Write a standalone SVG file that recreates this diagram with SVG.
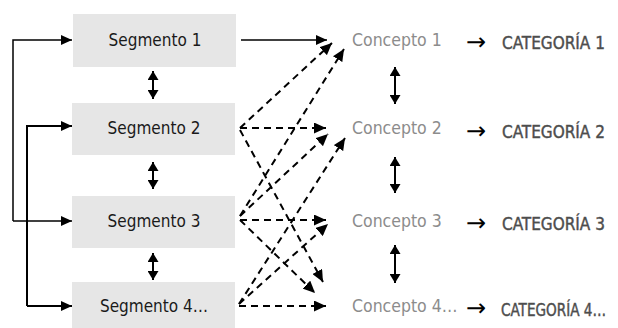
<svg xmlns="http://www.w3.org/2000/svg" width="618" height="328" viewBox="0 0 618 328">
<style>
.box{fill:#e6e6e6;}
.seg{font-family:"DejaVu Sans Condensed","Liberation Sans Narrow","DejaVu Sans",sans-serif;font-size:17px;fill:#1a1a1a;text-anchor:middle;dominant-baseline:central;}
.con{font-family:"DejaVu Sans Condensed","Liberation Sans Narrow","DejaVu Sans",sans-serif;font-size:17.5px;fill:#8c8c8c;dominant-baseline:central;}
.cat{font-family:"DejaVu Sans Condensed","Liberation Sans Narrow","DejaVu Sans",sans-serif;font-size:17px;fill:#4d4d4d;stroke:#4d4d4d;stroke-width:0.4;dominant-baseline:central;}
.arr{font-family:"Noto Sans","DejaVu Sans",sans-serif;font-size:24px;fill:#000;dominant-baseline:central;}
.solid{fill:none;stroke:#000;stroke-width:1.5;}
.thick{fill:none;stroke:#000;stroke-width:2;}
.dash{fill:none;stroke:#000;stroke-width:2;stroke-dasharray:7 5;}
</style>
<defs>
<marker id="ah" markerUnits="userSpaceOnUse" markerWidth="11" markerHeight="10" viewBox="0 0 11 10" refX="11" refY="5" orient="auto"><path d="M0,0 L11,5 L0,10 Z" fill="#000"/></marker>
<marker id="dh" markerUnits="userSpaceOnUse" markerWidth="12" markerHeight="11" viewBox="0 0 12 11" refX="12" refY="5.5" orient="auto"><path d="M0,0 L12,5.5 L0,11 Z" fill="#000"/></marker>
<marker id="vh" markerUnits="userSpaceOnUse" markerWidth="9" markerHeight="11" viewBox="0 0 9 11" refX="9" refY="5.5" orient="auto-start-reverse"><path d="M0,0 L9,5.5 L0,11 Z" fill="#000"/></marker>
</defs>

<g id="seg1"><rect class="box" x="73" y="14" width="163" height="53"/><text class="seg" x="155" y="40">Segmento 1</text></g>
<g id="seg2"><rect class="box" x="72" y="103" width="163" height="52"/><text class="seg" x="154" y="128">Segmento 2</text></g>
<g id="seg3"><rect class="box" x="72" y="196" width="163" height="52"/><text class="seg" x="154" y="221">Segmento 3</text></g>
<g id="seg4"><rect class="box" x="72" y="282" width="163" height="52"/><text class="seg" x="154" y="306">Segmento 4…</text></g>

<g id="con1"><text class="con" x="352" y="40">Concepto 1</text></g>
<g id="con2"><text class="con" x="352" y="128">Concepto 2</text></g>
<g id="con3"><text class="con" x="352" y="221">Concepto 3</text></g>
<g id="con4"><text class="con" x="352" y="306">Concepto 4…</text></g>

<g id="cat1"><text class="arr" x="466" y="40">→</text><text class="cat" x="502" y="43">CATEGORÍA 1</text></g>
<g id="cat2"><text class="arr" x="466" y="129">→</text><text class="cat" x="502" y="132">CATEGORÍA 2</text></g>
<g id="cat3"><text class="arr" x="466" y="221">→</text><text class="cat" x="502" y="224">CATEGORÍA 3</text></g>
<g id="cat4"><text class="arr" x="466" y="306">→</text><text class="cat" x="501" y="310" font-size="16.5" textLength="105" lengthAdjust="spacingAndGlyphs">CATEGORÍA 4…</text></g>

<g id="connectors">
<path class="solid" d="M13,221 L13,40 L72,40" marker-end="url(#ah)"/>
<path class="solid" d="M13,221 L72,221" marker-end="url(#ah)"/>
<path class="thick" d="M27,306 L27,126 L72,126" marker-end="url(#ah)"/>
<path class="thick" d="M27,306 L72,306" marker-end="url(#ah)"/>

<line class="thick" x1="153" y1="71" x2="153" y2="99" marker-start="url(#vh)" marker-end="url(#vh)"/>
<line class="thick" x1="153" y1="162" x2="153" y2="189" marker-start="url(#vh)" marker-end="url(#vh)"/>
<line class="thick" x1="153" y1="253" x2="153" y2="280" marker-start="url(#vh)" marker-end="url(#vh)"/>

<line class="thick" x1="395" y1="67" x2="395" y2="104" marker-start="url(#vh)" marker-end="url(#vh)"/>
<line class="thick" x1="395" y1="157" x2="395" y2="193" marker-start="url(#vh)" marker-end="url(#vh)"/>
<line class="thick" x1="395" y1="245" x2="395" y2="283" marker-start="url(#vh)" marker-end="url(#vh)"/>

<line class="solid" x1="241" y1="40" x2="327" y2="40" marker-end="url(#ah)"/>

<line class="dash" x1="240" y1="128" x2="332" y2="43" marker-end="url(#dh)"/>
<line class="dash" x1="240" y1="128" x2="326" y2="128" marker-end="url(#dh)"/>
<line class="dash" x1="240" y1="130" x2="323" y2="282" marker-end="url(#dh)"/>

<line class="dash" x1="240" y1="216" x2="344" y2="49" marker-end="url(#dh)"/>
<line class="dash" x1="240" y1="216" x2="328" y2="134" marker-end="url(#dh)"/>
<line class="dash" x1="240" y1="220" x2="326" y2="220" marker-end="url(#dh)"/>
<line class="dash" x1="240" y1="220" x2="315" y2="293" marker-end="url(#dh)"/>

<line class="dash" x1="239" y1="304" x2="345" y2="138" marker-end="url(#dh)"/>
<line class="dash" x1="239" y1="304" x2="328" y2="224" marker-end="url(#dh)"/>
<line class="dash" x1="239" y1="306" x2="326" y2="306" marker-end="url(#dh)"/>
</g>
</svg>
